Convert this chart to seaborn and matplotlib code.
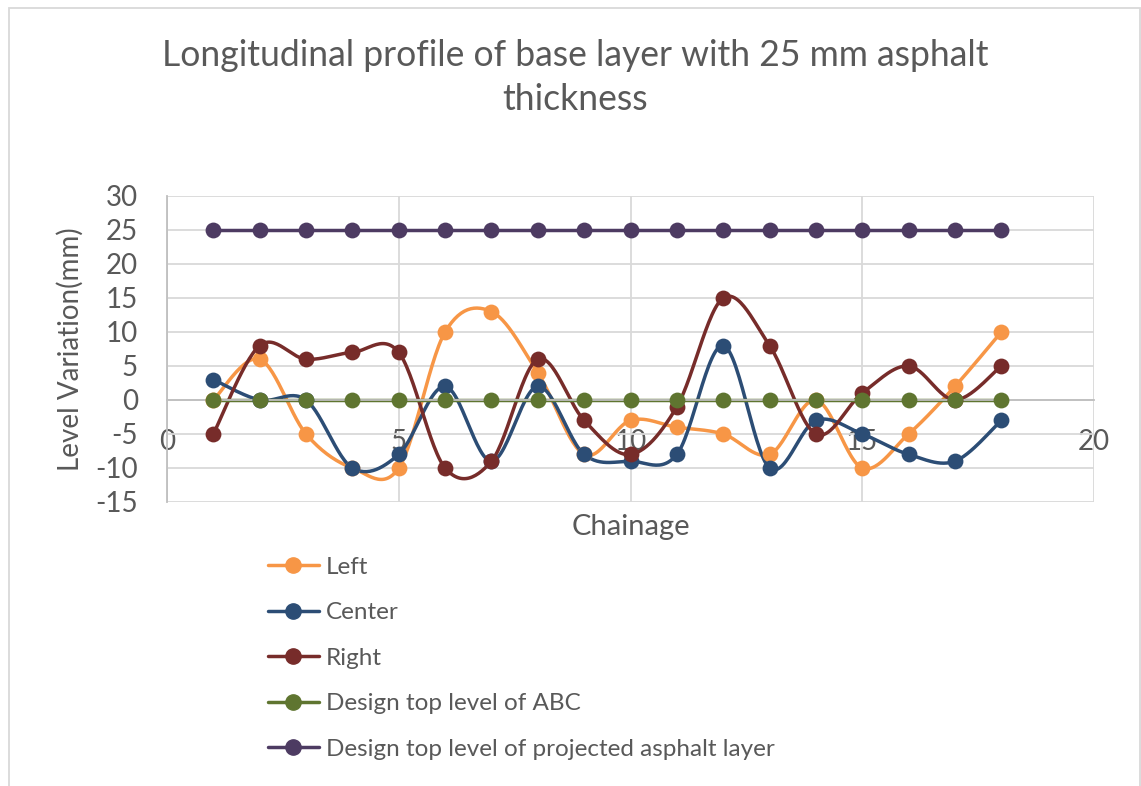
import numpy as np
import pandas as pd
import matplotlib
matplotlib.use('Agg')
import matplotlib.pyplot as plt
from matplotlib.lines import Line2D
from matplotlib.patches import Rectangle
import seaborn as sns

chainage = list(range(1, 19))
left = [0, 6, -5, -10, -10, 10, 13, 4, -8, -3, -4, -5, -8, 0, -10, -5, 2, 10]
center = [3, 0, 0, -10, -8, 2, -9, 2, -8, -9, -8, 8, -10, -3, -5, -8, -9, -3]
right = [-5, 8, 6, 7, 7, -10, -9, 6, -3, -8, -1, 15, 8, -5, 1, 5, 0, 5]
abc = [0] * 18
asphalt = [25] * 18

series = {
    'Left': left,
    'Center': center,
    'Right': right,
    'Design top level of ABC': abc,
    'Design top level of projected asphalt layer': asphalt,
}
colors = ['#F79646', '#2C4D75', '#772C2A', '#5F7530', '#4D3B62']


def smooth(x, y, n=30):
    # excel style smoothing (catmull-rom through the points)
    x = np.asarray(x, float)
    y = np.asarray(y, float)
    px = np.concatenate([[x[0]], x, [x[-1]]])
    py = np.concatenate([[y[0]], y, [y[-1]]])
    xs, ys = [], []
    t = np.linspace(0, 1, n)
    for i in range(1, len(px) - 2):
        for p, out in ((px, xs), (py, ys)):
            p0, p1, p2, p3 = p[i - 1], p[i], p[i + 1], p[i + 2]
            c1 = p1 + (p2 - p0) / 6
            c2 = p2 - (p3 - p1) / 6
            out.extend((1 - t) ** 3 * p1 + 3 * (1 - t) ** 2 * t * c1
                       + 3 * (1 - t) * t ** 2 * c2 + t ** 3 * p2)
    return np.array(xs), np.array(ys)


sns.set_theme(style='white')
plt.rcParams['font.family'] = ['Lato', 'DejaVu Sans']
plt.rcParams['axes.unicode_minus'] = False
txt = '#595959'
grid = '#D9D9D9'

fig = plt.figure(figsize=(11.41, 7.86), dpi=100)
ax = fig.add_axes([167 / 1141, 1 - 502 / 786, (1094 - 167) / 1141, (502 - 196) / 786])

handles = []
for (name, vals), c in zip(series.items(), colors):
    sx, sy = smooth(chainage, vals)
    sns.lineplot(x=sx, y=sy, ax=ax, color=c, linewidth=2.5, sort=False, estimator=None)
    sns.scatterplot(x=chainage, y=vals, ax=ax, color=c, s=130, edgecolor=c, linewidth=0, zorder=3)
    handles.append(Line2D([0], [0], color=c, linewidth=2.5, marker='o', markersize=11))

ax.set_xlim(0, 20)
ax.set_ylim(-15, 30)
ax.set_xticks([0, 5, 10, 15, 20])
ax.set_yticks(range(-15, 31, 5))
ax.grid(True, color=grid, linewidth=1.3)
ax.set_axisbelow(True)
for s in ['top', 'right']:
    ax.spines[s].set_visible(False)
ax.spines['bottom'].set_position(('data', 0))
ax.spines['bottom'].set_color('#BFBFBF')
ax.spines['left'].set_color('#BFBFBF')
ax.spines['bottom'].set_linewidth(1.3)
ax.spines['left'].set_linewidth(1.3)
ax.tick_params(axis='x', length=0, pad=21, labelsize=20, labelcolor=txt)
ax.tick_params(axis='y', length=0, pad=21, labelsize=20, labelcolor=txt)

fig.text(575 / 1141, 1 - 55 / 786, 'Longitudinal profile of base layer with 25 mm asphalt',
         ha='center', va='center', fontsize=25.6, color=txt)
fig.text(575 / 1141, 1 - 100 / 786, 'thickness', ha='center', va='center', fontsize=25.6, color=txt)
fig.text(631 / 1141, 1 - 527 / 786, 'Chainage', ha='center', va='center', fontsize=21, color=txt)
fig.text(70 / 1141, 1 - 349 / 786, 'Level Variation(mm)', ha='center', va='center',
         rotation=90, fontsize=20, color=txt)

fig.legend(handles, list(series.keys()), loc='upper left',
           bbox_to_anchor=(258 / 1141, 1 - 547 / 786), frameon=False,
           fontsize=17.5, labelcolor=txt, handlelength=2.1, handletextpad=0.3,
           labelspacing=1.01, borderaxespad=0)

fig.patches.append(Rectangle((9 / 1141, -0.01), (1140 - 9) / 1141, 1.01 - 8 / 786,
                             transform=fig.transFigure, fill=False,
                             edgecolor=grid, linewidth=1.3))

fig.savefig('out.png', dpi=100)
